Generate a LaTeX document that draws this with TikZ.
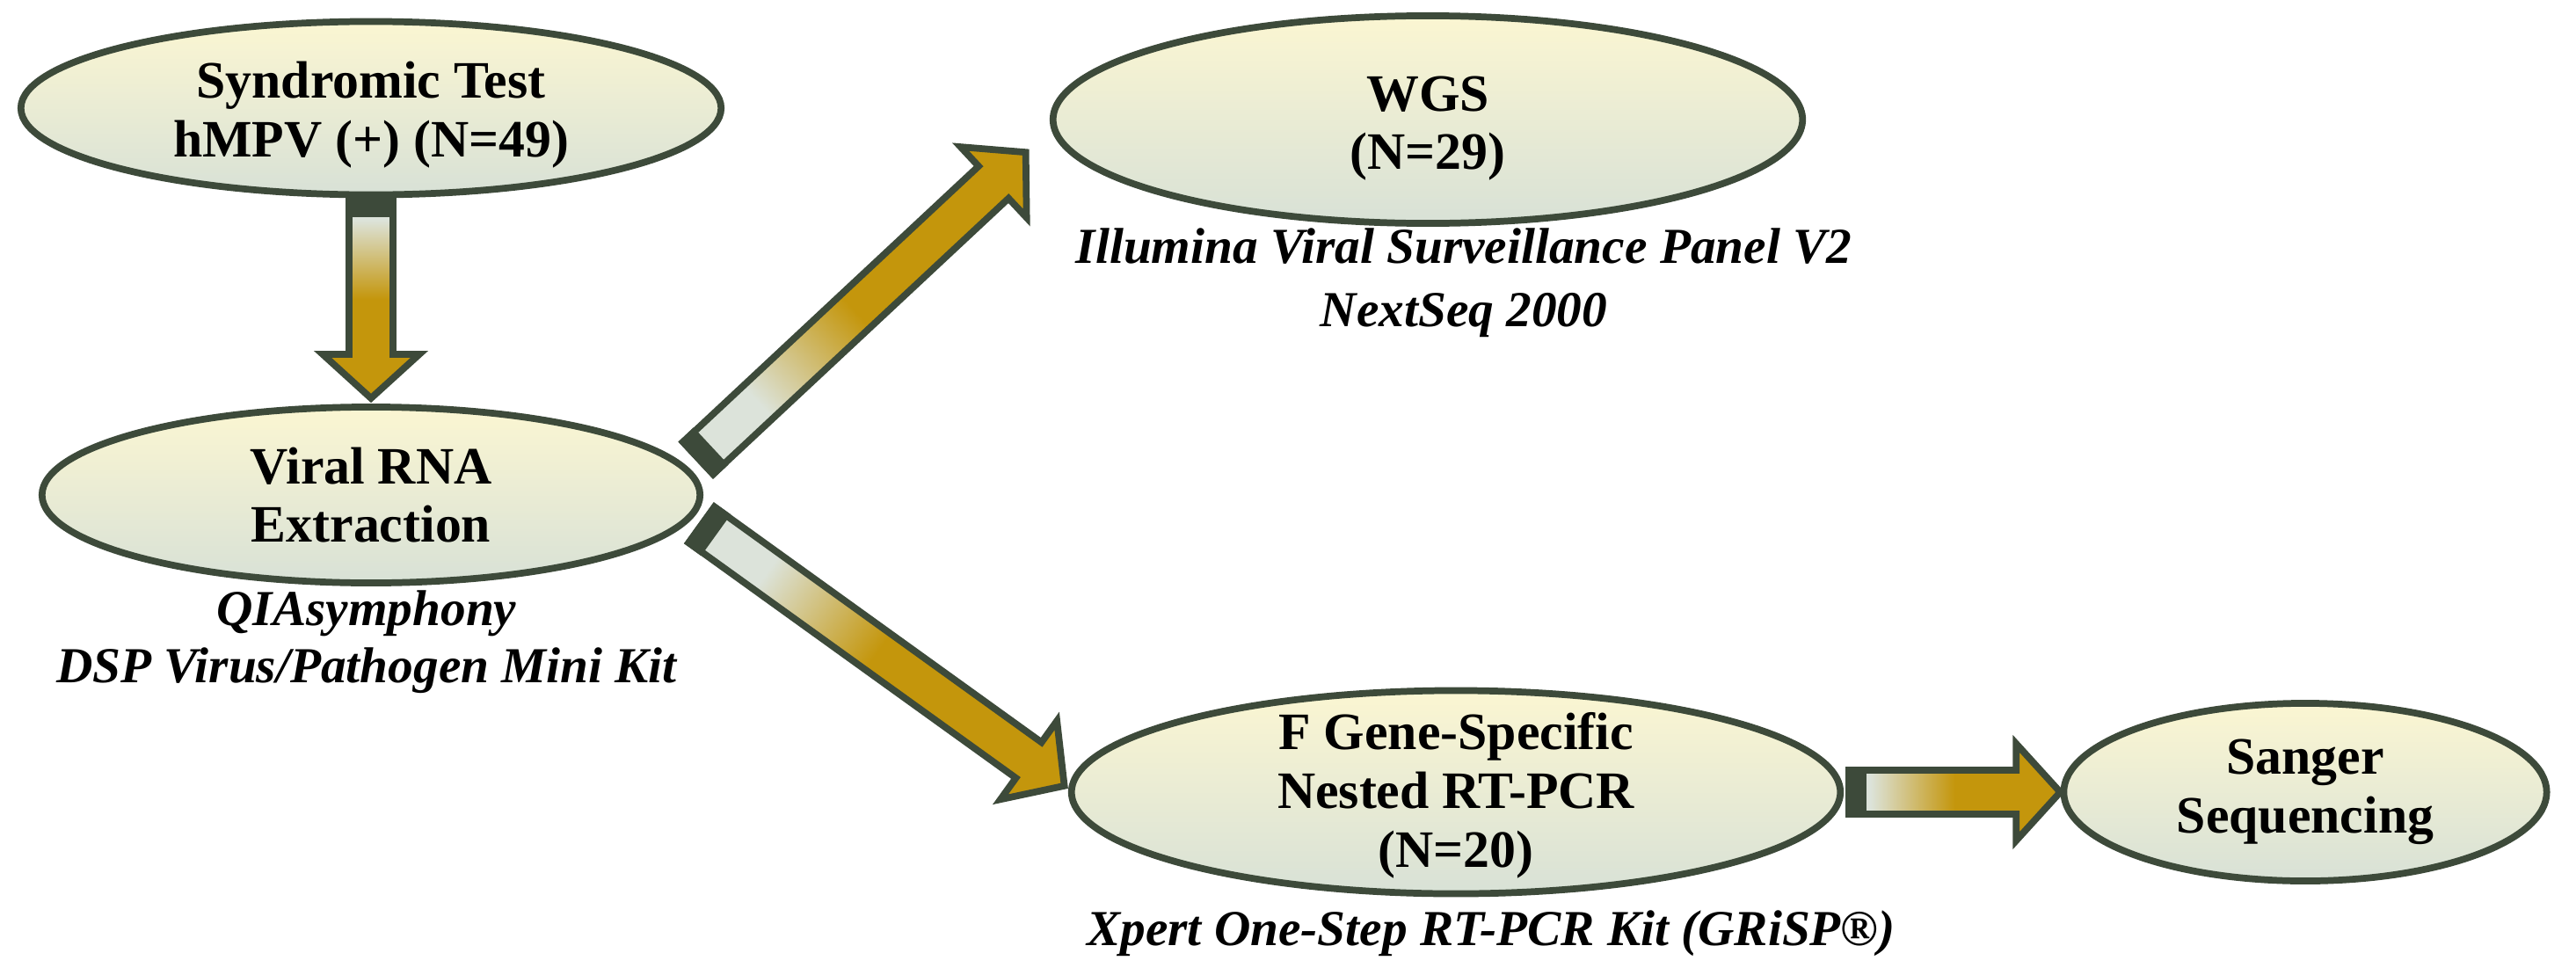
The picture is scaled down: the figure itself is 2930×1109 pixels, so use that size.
\documentclass[tikz,border=0pt]{standalone}
\usepackage{fontspec}
\setmainfont{Liberation Serif}
\usepackage{tikz}
\usetikzlibrary{calc,shapes.geometric}
\definecolor{FlowLine}{HTML}{3D4A3A}
\definecolor{FlowCream}{HTML}{FBF6D2}
\definecolor{FlowSage}{HTML}{D8E1D6}
\definecolor{FlowGold}{HTML}{C4960C}
\definecolor{FlowPale}{HTML}{DCE3DA}
\pgfdeclareverticalshading{arrowfade}{100bp}{color(0bp)=(FlowPale); color(30bp)=(FlowPale); color(50bp)=(FlowGold); color(100bp)=(FlowGold)}
% block arrow from tail coordinate to tip coordinate
\newcommand{\flowarrow}[2]{%
  \path (#1); \pgfgetlastxy{\tailx}{\taily}
  \path (#2); \pgfgetlastxy{\tipx}{\tipy}
  \pgfmathsetmacro{\arrang}{atan2(\tipy-\taily,\tipx-\tailx)}
  \pgfmathsetmacro{\arrshade}{\arrang-90}
  \pgfmathsetmacro{\arrlen}{veclen(\tipx-\tailx,\tipy-\taily)/0.284528}
  \pgfmathsetmacro{\arrneck}{\arrlen-50}
  \begin{scope}[shift={(#1)},rotate=\arrang]
    \shadedraw[arrowbody,shading angle=\arrshade]
      (0,-25) -- (\arrneck,-25) -- (\arrneck,-55) -- (\arrlen,0)
      -- (\arrneck,55) -- (\arrneck,25) -- (0,25) -- cycle;
    \fill[FlowLine] (-4,-29) rectangle (20,29);
  \end{scope}}

\begin{document}
\begin{tikzpicture}[x=0.01cm,y=-0.01cm,
    stage/.style={ellipse,draw=FlowLine,line width=2.2pt,top color=FlowCream,
      bottom color=FlowSage,inner sep=0pt},
    stagetext/.style={align=center,inner sep=0pt,
      font=\fontsize{17pt}{19pt}\selectfont\bfseries},
    kitnote/.style={align=center,inner sep=0pt,
      font=\fontsize{16.3pt}{18.5pt}\selectfont\bfseries\itshape},
    arrowbody/.style={shading=arrowfade,draw=FlowLine,line width=2.2pt,line join=miter}]
  \useasboundingbox (0,0) rectangle (2930,1109);
  % stages
  \node[stage,minimum width=7.96cm,minimum height=1.97cm] (syndromic) at (422,123) {};
  \node[stage,minimum width=7.48cm,minimum height=2.00cm] (extract) at (422,563) {};
  \node[stage,minimum width=8.52cm,minimum height=2.36cm] (wgs) at (1624,136) {};
  \node[stage,minimum width=8.74cm,minimum height=2.31cm] (fgene) at (1656,901) {};
  \node[stage,minimum width=5.49cm,minimum height=2.02cm] (sanger) at (2622,901) {};
  \node[stagetext] (syndromicText) at ($(syndromic)+(0,8)$) {Syndromic Test\\hMPV (+) (N=49)};
  \node[stagetext] (extractText) at (extract) {Viral RNA\\Extraction};
  \node[stagetext] (wgsText) at ($(wgs)+(0,10)$) {WGS\\(N=29)};
  \node[stagetext] (fgeneText) at ($(fgene)+(0,4)$) {F Gene-Specific\\Nested RT-PCR\\(N=20)};
  \node[stagetext] (sangerText) at (sanger) {Sanger\\Sequencing};
  % kits
  \node[kitnote] (extractKit) at (417,730) {QIAsymphony\\DSP Virus/Pathogen Mini Kit};
  \node[kitnote] (wgsKit) at (1665,322) {Illumina Viral Surveillance Panel V2\\[2pt]NextSeq 2000};
  \node[kitnote] (fgeneKit) at (1696,1062) {Xpert One-Step RT-PCR Kit (GRiSP®)};
  % arrows
  \coordinate (dnTail) at ($(syndromic.south)+(0,2)$);
  \coordinate (dnTip) at ($(extract.north)+(0,-6)$);
  \coordinate (upTail) at ($(extract.east)+(-6,-42)$);
  \coordinate (upTip) at ($(wgs.west)+(-27,37)$);
  \coordinate (dnrTail) at ($(extract.east)+(-2,34)$);
  \coordinate (dnrTip) at ($(fgene.west)+(-4,-7)$);
  \coordinate (seqTail) at ($(fgene.east)+(6,0)$);
  \coordinate (seqTip) at (sanger.west);
  \flowarrow{dnTail}{dnTip}
  \flowarrow{upTail}{upTip}
  \flowarrow{dnrTail}{dnrTip}
  \flowarrow{seqTail}{seqTip}
\end{tikzpicture}
\end{document}
